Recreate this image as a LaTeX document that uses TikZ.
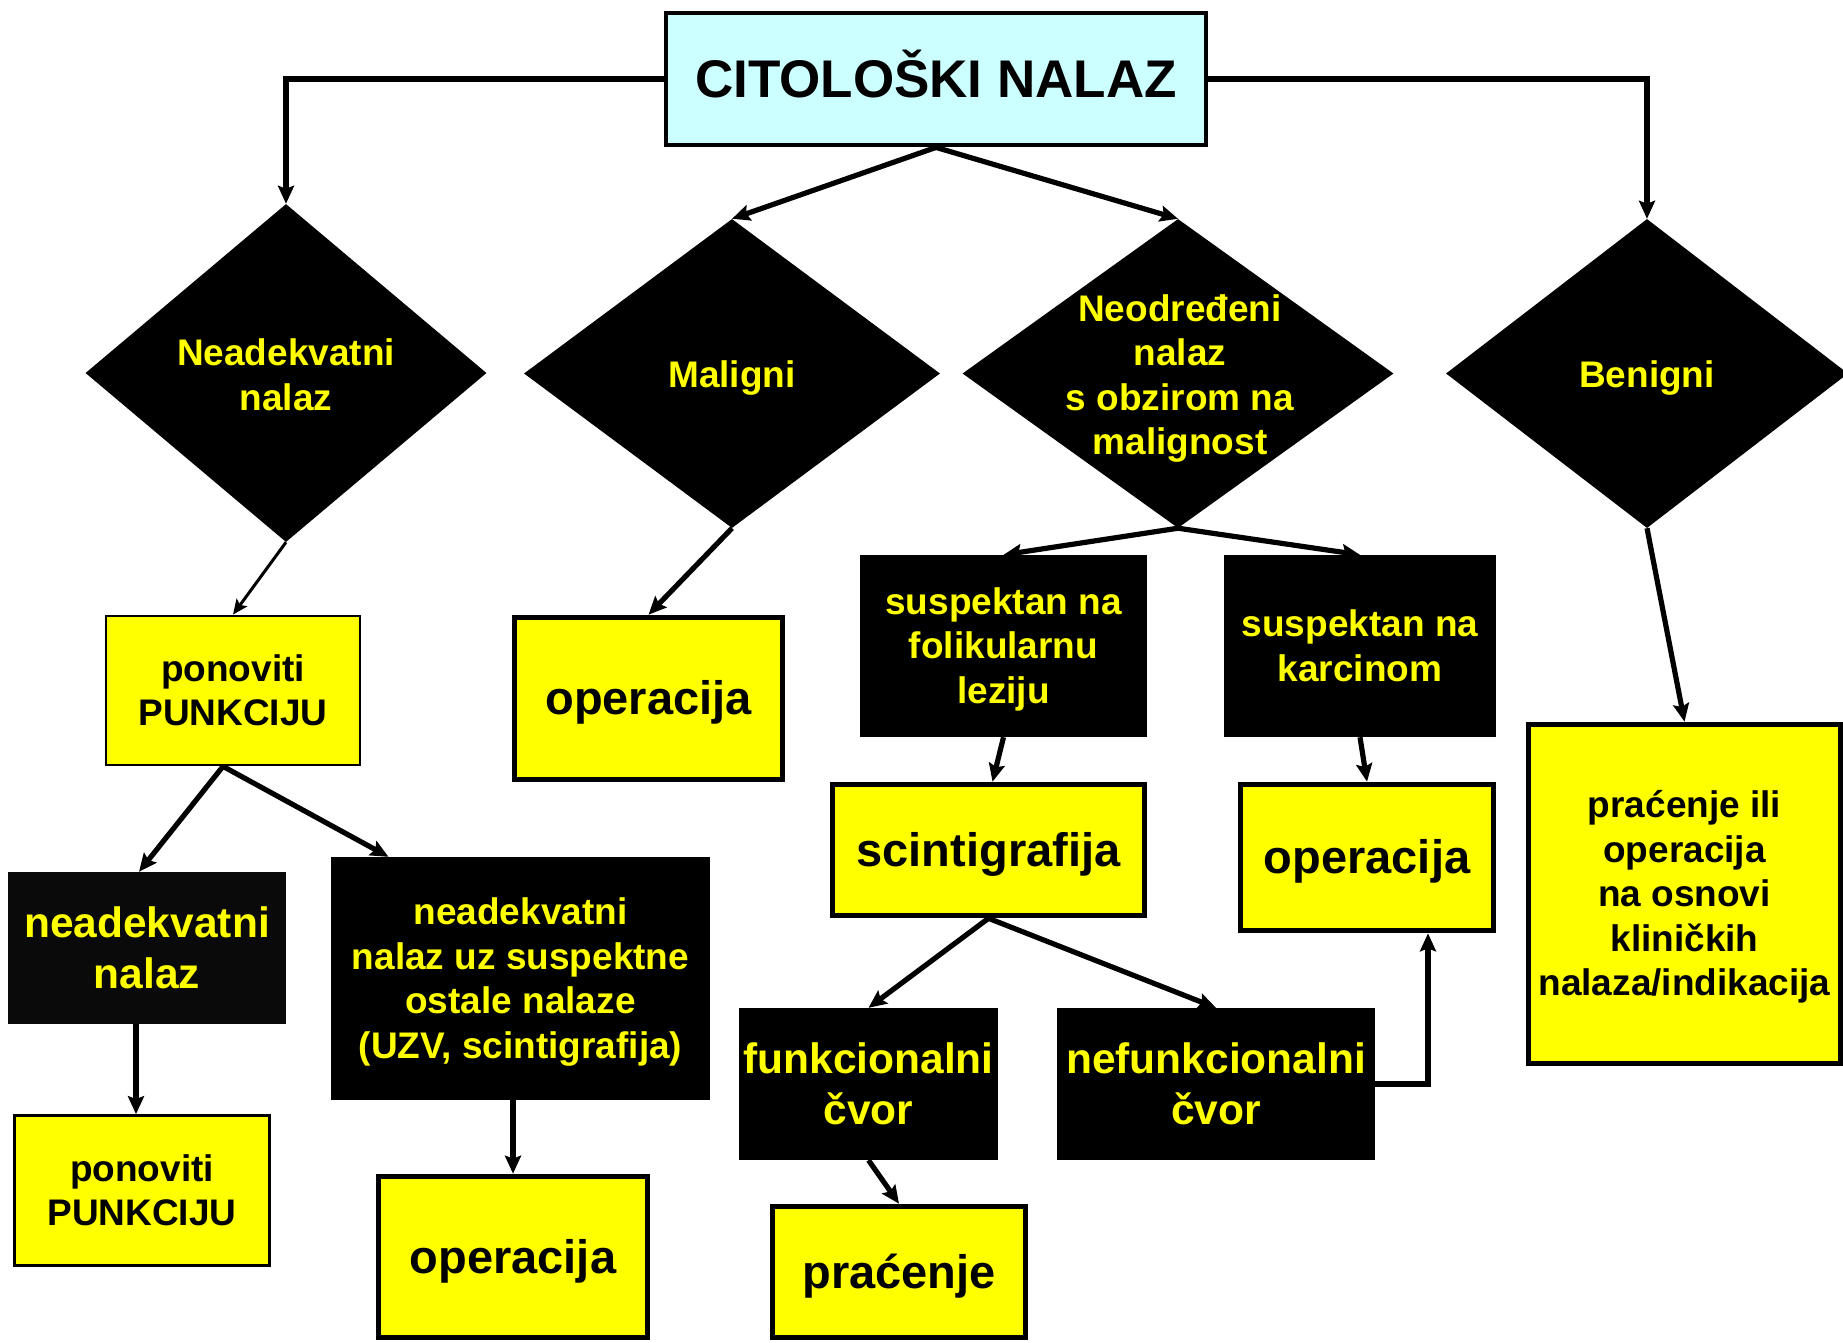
\documentclass[tikz,border=0pt]{standalone}
\usepackage{fontspec}
\setmainfont{Liberation Sans}
\usetikzlibrary{arrows.meta,shapes.geometric}
\definecolor{titlecyan}{RGB}{204,255,255}
\definecolor{ylw}{RGB}{255,255,0}
\newcommand{\mystrut}{\rule[-0.212em]{0pt}{1.117em}}
\begin{document}
\begin{tikzpicture}[x=1pt,y=-1pt,
  ybig/.style={draw=black, fill=ylw, line width=5.6pt, align=center, inner sep=0pt,
    font=\bfseries\fontsize{47}{55}\selectfont},
  ysmall/.style={draw=black, fill=ylw, line width=5.6pt, align=center, inner sep=0pt,
    font=\bfseries\fontsize{37}{44.5}\selectfont},
  ythin/.style={draw=black, fill=ylw, line width=2.7pt, align=center, inner sep=0pt,
    font=\bfseries\fontsize{37}{44.5}\selectfont},
  bsmall/.style={fill=black, text=ylw, align=center, inner sep=0pt,
    font=\bfseries\fontsize{37}{44.5}\selectfont},
  bbig/.style={fill=black, text=ylw, align=center, inner sep=0pt,
    font=\bfseries\fontsize{42.5}{51}\selectfont},
  dia/.style={diamond, fill=black, inner sep=0pt},
  dtext/.style={text=ylw, align=center, inner sep=0pt,
    font=\bfseries\fontsize{37}{44.5}\selectfont},
  conn/.style={line width=5.2pt, -{Stealth[length=18pt,width=16pt,inset=3pt]}},
  connthin/.style={line width=3pt, -{Stealth[length=15pt,width=13pt,inset=3pt]}}
]
\useasboundingbox (0,0) rectangle (1843,1342);
\fill[white] (0,0) rectangle (1843,1342);

% title
\node[draw=black, fill=titlecyan, line width=4.8pt, minimum width=540pt, minimum height=132pt,
  inner sep=0pt, font=\bfseries\fontsize{53}{60}\selectfont] (top) at (936,79) {\mystrut CITOLOŠKI NALAZ};

% diamonds
\node[dia, minimum width=401pt, minimum height=338pt] (d1) at (286,373) {};
\node[dtext] (d1t) at (286,375) {\mystrut Neadekvatni\\nalaz\mystrut};
\node[dia, minimum width=416pt, minimum height=309pt] (d2) at (732,373.5) {};
\node[dtext] (d2t) at (732,375) {\mystrut Maligni};
\node[dia, minimum width=431pt, minimum height=309pt] (d3) at (1178,373.5) {};
\node[dtext] (d3t) at (1180,375) {\mystrut Neodređeni\\nalaz\\s obzirom na\\malignost\mystrut};
\node[dia, minimum width=402pt, minimum height=309pt] (d4) at (1647,373.5) {};
\node[dtext] (d4t) at (1647,375) {\mystrut Benigni};

% second level
\node[ythin, minimum width=254pt, minimum height=149pt] (pon1) at (233,690.5) {\mystrut ponoviti\\PUNKCIJU\mystrut};
\node[ybig, minimum width=268pt, minimum height=162pt] (op1) at (648.5,698.5) {\mystrut operacija};
\node[bsmall, minimum width=287pt, minimum height=182pt] (sf) at (1003.5,646) {\mystrut suspektan na\\folikularnu\\leziju\mystrut};
\node[bsmall, minimum width=272pt, minimum height=182pt] (sk) at (1360,646) {\mystrut suspektan na\\karcinom\mystrut};
\node[ybig, minimum width=312pt, minimum height=131pt] (sc) at (988.5,850) {\mystrut scintigrafija};
\node[ybig, minimum width=253pt, minimum height=146pt] (ok) at (1367,857.5) {\mystrut operacija};
\node[ysmall, minimum width=312pt, minimum height=339pt] (pr) at (1684.5,894) {\mystrut praćenje ili\\operacija\\na osnovi\\kliničkih\\nalaza/indikacija\mystrut};

% lower levels
\node[bbig, fill=black!96, minimum width=278pt, minimum height=152pt] (nn) at (147,948) {\mystrut neadekvatni\\nalaz\mystrut};
\node[bsmall, minimum width=379pt, minimum height=243pt] (nu) at (520.5,978.5) {\mystrut neadekvatni\\nalaz uz suspektne\\ostale nalaze\\(UZV, scintigrafija)\mystrut};
\node[ythin, minimum width=255pt, minimum height=150pt] (pon2) at (142,1190.5) {\mystrut ponoviti\\PUNKCIJU\mystrut};
\node[ybig, minimum width=269pt, minimum height=161pt] (op2) at (513,1257) {\mystrut operacija};
\node[bbig, minimum width=259pt, minimum height=152pt] (fc) at (868.5,1084) {\mystrut funkcionalni\\čvor\mystrut};
\node[bbig, minimum width=318pt, minimum height=152pt] (nf) at (1216,1084) {\mystrut nefunkcionalni\\čvor\mystrut};
\node[ybig, minimum width=253pt, minimum height=131pt] (pc) at (899,1272) {\mystrut praćenje};

% connectors
\draw[conn] (top.west) -| (d1.north);
\draw[conn] (top.east) -| (d4.north);
\draw[conn] (top.south) -- (d2.north);
\draw[conn] (top.south) -- (d3.north);
\draw[connthin] (d1.south) -- (pon1.north);
\draw[conn] (d2.south) -- (op1.north);
\draw[conn] (d3.south) -- (sf.north);
\draw[conn] (d3.south) -- (sk.north);
\draw[conn] (d4.south) -- (pr.north);
\draw[conn] ([xshift=-10pt]pon1.south) -- ([xshift=-8pt]nn.north);
\draw[conn] ([xshift=-10pt]pon1.south) -- ([xshift=-132pt]nu.north);
\draw[conn] ([xshift=-11pt]nn.south) -- ([xshift=-11pt]nn.south |- pon2.north);
\draw[conn] (op2.north |- nu.south) -- (op2.north);
\draw[conn] (sf.south) -- ([xshift=4pt]sc.north);
\draw[conn] (sk.south) -- (ok.north);
\draw[conn] (sc.south) -- (fc.north);
\draw[conn] (sc.south) -- (nf.north);
\draw[conn] (fc.south) -- (pc.north);
\draw[conn] (nf.east) -| ([xshift=61pt]ok.south);
\end{tikzpicture}
\end{document}
